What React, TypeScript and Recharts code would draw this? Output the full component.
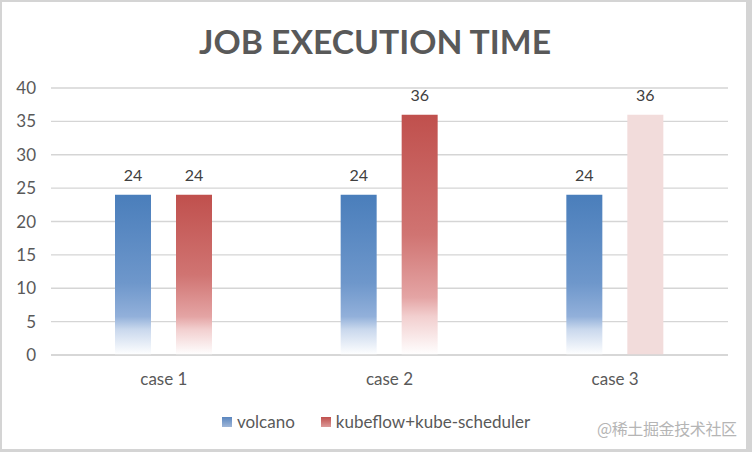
import React from 'react';
import { BarChart, Bar, XAxis, YAxis, CartesianGrid, Legend, LabelList, Cell } from 'recharts';

const categories = ['case 1', 'case 2', 'case 3'];
const volcanoValues = [24, 24, 24];
const kubeflowValues = [24, 36, 36];
const yTicks = [0, 5, 10, 15, 20, 25, 30, 35, 40];
const seriesNames = { volcano: 'volcano', kubeflow: 'kubeflow+kube-scheduler' };
const seriesOrder = ['volcano', 'kubeflow'];
const titleText = 'JOB EXECUTION TIME';
const watermarkText = '@稀土掘金技术社区';

const data = categories.map((c, i) => ({
  name: c,
  volcano: volcanoValues[i],
  kubeflow: kubeflowValues[i],
}));

const FONT = 'Lato, "Noto Sans", sans-serif';

const legendSwatch: Record<string, string> = {
  volcano: 'linear-gradient(#5a86bf, #9fb6d8)',
  kubeflow: 'linear-gradient(#c0504d, #dc9a99)',
};

const LegendContent = (props: any) => {
  const payload = [...(props.payload || [])].sort(
    (a: any, b: any) => seriesOrder.indexOf(a.dataKey) - seriesOrder.indexOf(b.dataKey)
  );
  return (
    <div style={{ display: 'flex', justifyContent: 'center', alignItems: 'center', fontFamily: FONT, fontSize: 17, color: '#595959', lineHeight: '20px' }}>
      {payload.map((p: any, i: number) => (
        <div key={i} style={{ display: 'flex', alignItems: 'center', marginLeft: i === 0 ? 0 : 26 }}>
          <span style={{ display: 'inline-block', width: 10, height: 10, marginRight: 5, background: legendSwatch[p.dataKey] }} />
          <span>{p.value}</span>
        </div>
      ))}
    </div>
  );
};

export default function App() {
  return (
    <div style={{ position: 'absolute', left: 0, top: 0, width: 752, height: 452, background: '#d4d4d4', overflow: 'hidden' }}>
      <div style={{ position: 'absolute', left: 2, top: 2, width: 744, height: 447, background: '#ffffff' }} />
      <svg width={752} height={452} style={{ position: 'absolute', left: 0, top: 0 }}>
        <text x={375} y={54} textAnchor="middle" fontFamily={FONT} fontWeight={700} fontSize={32} fill="#595959" textLength={352} lengthAdjust="spacingAndGlyphs">
          {titleText}
        </text>
        <text x={737} y={435} textAnchor="end" fontFamily='"Noto Sans CJK SC", sans-serif' fontSize={16} fill="#b5b5b5" textLength={140} lengthAdjust="spacing">
          {watermarkText}
        </text>
      </svg>
      <div style={{ position: 'absolute', left: 0, top: 0 }}>
        <BarChart width={752} height={452} data={data} margin={{ top: 88, right: 24, bottom: 67, left: 0 }} barSize={36} barGap={25}>
          <defs>
            <linearGradient id="gradBlue" x1="0" y1="0" x2="0" y2="1">
              <stop offset="0" stopColor="#4a7ebb" />
              <stop offset="0.55" stopColor="#6e97cb" />
              <stop offset="0.76" stopColor="#92b0da" />
              <stop offset="0.84" stopColor="#c9d8ed" />
              <stop offset="1" stopColor="#ffffff" />
            </linearGradient>
            <linearGradient id="gradRed" x1="0" y1="0" x2="0" y2="1">
              <stop offset="0" stopColor="#c0504d" />
              <stop offset="0.5" stopColor="#d07472" />
              <stop offset="0.76" stopColor="#e4a4a4" />
              <stop offset="0.84" stopColor="#f2cfcf" />
              <stop offset="1" stopColor="#ffffff" />
            </linearGradient>
          </defs>
          <CartesianGrid vertical={false} stroke="#d5d5d5" strokeWidth={1.3} />
          <XAxis dataKey="name" tickLine={false} axisLine={{ stroke: '#d5d5d5', strokeWidth: 1.3 }} height={30} tickSize={0} tickMargin={18}
            tick={{ fontFamily: FONT, fontSize: 17, fill: '#595959' }} />
          <YAxis domain={[0, 40]} ticks={yTicks} axisLine={false} tickLine={false} width={51} tickSize={0} tickMargin={15}
            tick={{ fontFamily: FONT, fontSize: 17, fill: '#595959' }} interval={0} />
          <Legend layout="horizontal" verticalAlign="middle" align="center" content={<LegendContent />}
            wrapperStyle={{ top: 412, left: 0, width: 752 }} />
          <Bar dataKey="volcano" name={seriesNames.volcano} fill="url(#gradBlue)" isAnimationActive={false}>
            <LabelList dataKey="volcano" position="top" offset={14} style={{ fontFamily: FONT, fontSize: 16, fill: '#404040' }} />
          </Bar>
          <Bar dataKey="kubeflow" name={seriesNames.kubeflow} fill="url(#gradRed)" isAnimationActive={false}>
            {data.map((d, i) => (
              <Cell key={i} fill={i === 2 ? '#f2dcdb' : 'url(#gradRed)'} />
            ))}
            <LabelList dataKey="kubeflow" position="top" offset={14} style={{ fontFamily: FONT, fontSize: 16, fill: '#404040' }} />
          </Bar>
        </BarChart>
      </div>
    </div>
  );
}
